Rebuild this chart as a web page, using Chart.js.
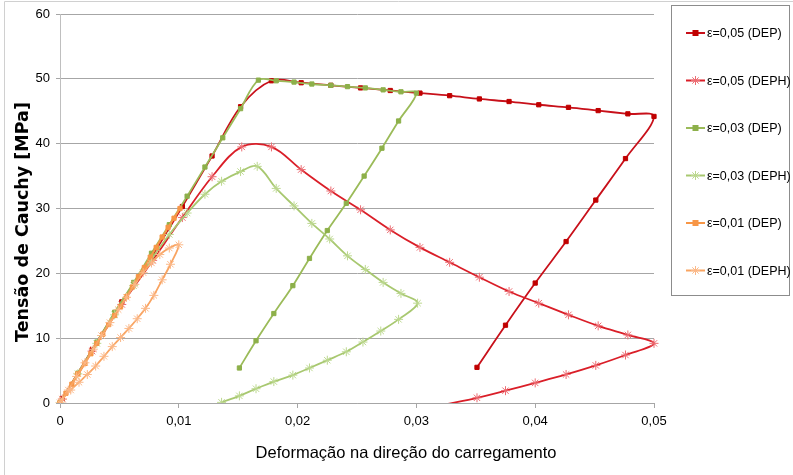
<!DOCTYPE html>
<html>
<head>
<meta charset="utf-8">
<script src="https://cdn.jsdelivr.net/npm/chart.js@4/dist/chart.umd.min.js"></script>
<style>
  html, body { margin: 0; background: #fff; }
  #wrap { position: relative; width: 793px; height: 475px; }
</style>
</head>
<body>
<div id="wrap"><canvas id="chart"></canvas></div>
<script>
// --data: [strain, stress MPa]
var seriesNames = ['ε=0,05 (DEP)', 'ε=0,05 (DEPH)', 'ε=0,03 (DEP)', 'ε=0,03 (DEPH)', 'ε=0,01 (DEP)', 'ε=0,01 (DEPH)'];

var dep05 = [[0.0002,0.7],[0.0027,8.2],[0.0052,15.6],[0.0078,22.8],[0.0103,30.3],[0.0128,38.1],[0.0152,45.7],[0.0178,49.7],
  [0.0203,49.4],[0.0228,49.0],[0.0253,48.6],[0.0278,48.2],[0.0303,47.8],[0.0328,47.4],[0.0353,46.9],[0.0378,46.5],
  [0.0403,46.0],[0.0428,45.6],[0.0453,45.1],[0.0478,44.6],[0.05,44.2],[0.0476,37.7],[0.0451,31.3],[0.0426,24.9],
  [0.0400,18.5],[0.0375,12.0],[0.0351,5.5]];

var deph05 = [[0.0002,0.6],[0.0027,8.0],[0.0052,15.2],[0.0078,22.0],[0.0103,28.6],[0.0128,34.9],[0.0153,39.5],[0.0178,39.5],
  [0.0203,36.0],[0.0228,32.7],[0.0253,29.8],[0.0278,26.7],[0.0303,24.0],[0.0328,21.7],[0.0353,19.4],[0.0378,17.2],
  [0.0403,15.4],[0.0428,13.6],[0.0453,11.9],[0.0478,10.5],[0.05,9.2],[0.0476,7.4],[0.0451,5.8],[0.0426,4.4],
  [0.0400,3.1],[0.0375,1.9],[0.0351,0.8],[0.0325,-0.2]];

var dep03 = [[0,0],[0.0015,4.6],[0.0031,9.4],[0.0046,14.0],[0.0062,18.6],[0.0077,23.1],[0.0092,27.5],[0.0107,31.9],
  [0.0122,36.4],[0.0137,40.9],[0.0152,45.4],[0.0167,49.8],[0.0182,49.7],[0.0197,49.5],[0.0212,49.2],[0.0228,49.0],
  [0.0242,48.8],[0.0257,48.6],[0.0272,48.3],[0.0287,48.0],[0.0300,47.8],[0.0285,43.5],[0.0271,39.3],[0.0256,35.0],
  [0.0241,30.8],[0.0225,26.6],[0.0210,22.3],[0.0196,18.1],[0.0180,13.8],[0.0165,9.6],[0.0151,5.4]];

var deph03 = [[0,0],[0.0015,4.5],[0.0031,9.2],[0.0046,13.6],[0.0062,18.1],[0.0077,22.2],[0.0092,26.0],[0.0107,29.3],
  [0.0122,32.2],[0.0136,34.2],[0.0152,35.7],[0.0166,36.5],[0.0182,33.1],[0.0197,30.4],[0.0212,27.7],[0.0227,25.3],
  [0.0242,22.7],[0.0257,20.6],[0.0272,18.6],[0.0287,16.9],[0.0301,15.4],[0.0285,12.9],[0.0270,11.1],[0.0255,9.4],
  [0.0241,7.9],[0.0225,6.6],[0.0210,5.4],[0.0196,4.3],[0.0180,3.3],[0.0165,2.2],[0.0151,1.1],[0.0136,0.1]];

var dep01 = [[0,0],[0.0010,2.9],[0.0021,6.1],[0.0031,9.2],[0.0041,12.1],[0.0051,14.9],[0.0061,17.9],[0.0071,20.9],
  [0.0081,24.0],[0.0091,27.1],[0.0101,30.0],[0.0096,28.5],[0.0086,25.6],[0.0076,22.5],[0.0066,19.5],[0.0056,16.4],
  [0.0046,13.5],[0.0036,10.6],[0.0026,7.6],[0.0015,4.5],[0.0005,1.5]];

var deph01 = [[0,0],[0.0007,2.0],[0.0014,4.1],[0.0021,6.2],[0.0028,8.3],[0.0035,10.4],[0.0042,12.4],[0.0049,14.4],
  [0.0056,16.3],[0.0063,18.3],[0.0070,20.1],[0.0077,21.6],[0.0084,22.9],[0.0092,23.9],[0.0100,24.4],[0.0093,21.4],
  [0.0086,19.0],[0.0079,16.6],[0.0072,14.6],[0.0065,13.0],[0.0058,11.5],[0.0051,10.1],[0.0044,8.7],[0.0037,7.2],
  [0.0030,5.7],[0.0023,4.4],[0.0016,3.2],[0.0009,2.0],[0.0002,0.6]];

var xTicks = [0, 0.01, 0.02, 0.03, 0.04, 0.05];
var yTicks = [0, 10, 20, 30, 40, 50, 60];

var xTitle = 'Deformação na direção do carregamento';
var yTitle = 'Tensão de Cauchy [MPa]';

var sans = '"Liberation Sans Narrow", "Liberation Sans", Arial, sans-serif';

function toPoints(arr) {
  return arr.map(function(p) { return {x: p[0], y: p[1]}; });
}

var styles = [
  {line: '#C8101A', mark: '#C00000', shape: 'rect', r: 3},
  {line: '#DA1E28', mark: '#EC6C72', shape: 'star', r: 4.5},
  {line: '#9BBB59', mark: '#8DB04A', shape: 'rect', r: 3},
  {line: '#A8C870', mark: '#BCD88F', shape: 'star', r: 4.5},
  {line: '#F79646', mark: '#F79646', shape: 'rect', r: 3},
  {line: '#F9A461', mark: '#FBB888', shape: 'star', r: 4.5}
];
var allData = [dep05, deph05, dep03, deph03, dep01, deph01];

var datasets = allData.map(function(d, i) {
  var s = styles[i];
  return {
    label: seriesNames[i],
    data: toPoints(d),
    showLine: true,
    tension: 0.35,
    borderColor: s.line,
    borderWidth: 1.8,
    backgroundColor: s.mark,
    pointBackgroundColor: s.mark,
    pointBorderColor: s.mark,
    pointBorderWidth: 1,
    pointStyle: s.shape,
    // markers under the x axis are hidden, like in the spreadsheet
    pointRadius: function(c) { return c.raw && c.raw.y < 0 ? 0 : s.r; },
    clip: {left: 6, top: 6, right: 6, bottom: 0},
    order: 6 - i
  };
});

function drawMark(ctx, shape, x, y, r, color) {
  ctx.save();
  ctx.fillStyle = color;
  ctx.strokeStyle = color;
  ctx.lineWidth = 1;
  if (shape === 'rect') {
    ctx.fillRect(x - r, y - r, 2 * r, 2 * r);
  } else {
    var d = r * Math.SQRT1_2;
    ctx.beginPath();
    ctx.moveTo(x - r, y); ctx.lineTo(x + r, y);
    ctx.moveTo(x, y - r); ctx.lineTo(x, y + r);
    ctx.moveTo(x - d, y - d); ctx.lineTo(x + d, y + d);
    ctx.moveTo(x - d, y + d); ctx.lineTo(x + d, y - d);
    ctx.stroke();
  }
  ctx.restore();
}

// --frame, axis titles and legend box like the spreadsheet chart
var excelLegend = {
  id: 'excelLegend',
  beforeDraw: function(chart) {
    var ctx = chart.ctx;
    ctx.save();
    ctx.strokeStyle = '#D0D0D0';
    ctx.lineWidth = 1;
    ctx.beginPath();
    ctx.moveTo(4.5, 475); ctx.lineTo(4.5, 1.5); ctx.lineTo(793, 1.5);
    ctx.stroke();
    ctx.restore();
  },
  afterDraw: function(chart) {
    var ctx = chart.ctx;
    ctx.save();
    ctx.fillStyle = '#000';
    ctx.textAlign = 'center';
    ctx.textBaseline = 'middle';
    ctx.font = '16.5px ' + sans;
    ctx.fillText(xTitle, 406, 453);
    ctx.save();
    ctx.translate(23, 222);
    ctx.rotate(-Math.PI / 2);
    ctx.font = 'bold 17.5px "DejaVu Sans", sans-serif';
    ctx.fillText(yTitle, 0, 0);
    ctx.restore();

    ctx.strokeStyle = '#8C8C8C';
    ctx.lineWidth = 1;
    ctx.strokeRect(671.5, 5.5, 118, 290);
    ctx.font = '12.5px ' + sans;
    ctx.textAlign = 'left';
    seriesNames.forEach(function(name, i) {
      var s = styles[i];
      var y = 33 + i * 47.5;
      ctx.strokeStyle = s.line;
      ctx.lineWidth = 2;
      ctx.beginPath();
      ctx.moveTo(686, y); ctx.lineTo(705, y);
      ctx.stroke();
      drawMark(ctx, s.shape, 695.5, y, s.shape === 'rect' ? 3 : 4.5, s.mark);
      ctx.fillStyle = '#000';
      ctx.fillText(name, 707, y + 1);
    });
    ctx.restore();
  }
};

new Chart(document.getElementById('chart'), {
  type: 'scatter',
  data: {datasets: datasets},
  options: {
    responsive: true,
    maintainAspectRatio: false,
    animation: false,
    devicePixelRatio: 1,
    layout: {padding: {left: 0, right: 139, top: 14, bottom: 0}},
    plugins: {
      legend: {display: false},
      tooltip: {enabled: false}
    },
    scales: {
      x: {
        type: 'linear',
        min: 0,
        max: 0.05,
        afterBuildTicks: function(scale) {
          scale.ticks = xTicks.map(function(v) { return {value: v}; });
        },
        afterFit: function(scale) { scale.height = 72; },
        grid: {drawOnChartArea: false, drawTicks: true, tickLength: 5, color: '#A6A6A6'},
        border: {color: '#A6A6A6'},
        ticks: {
          color: '#000',
          padding: 6,
          maxRotation: 0,
          font: {family: sans, size: 13},
          callback: function(v) { return v === 0 ? '0' : v.toFixed(2).replace('.', ','); }
        }
      },
      y: {
        type: 'linear',
        min: 0,
        max: 60,
        afterBuildTicks: function(scale) {
          scale.ticks = yTicks.map(function(v) { return {value: v}; });
        },
        afterFit: function(scale) { scale.width = 60; },
        grid: {color: '#A6A6A6', tickColor: '#A6A6A6', drawTicks: true, tickLength: 4},
        border: {color: '#BFBFBF'},
        ticks: {
          color: '#000',
          padding: 6,
          font: {family: sans, size: 13}
        }
      }
    }
  },
  plugins: [excelLegend]
});
</script>
</body>
</html>
